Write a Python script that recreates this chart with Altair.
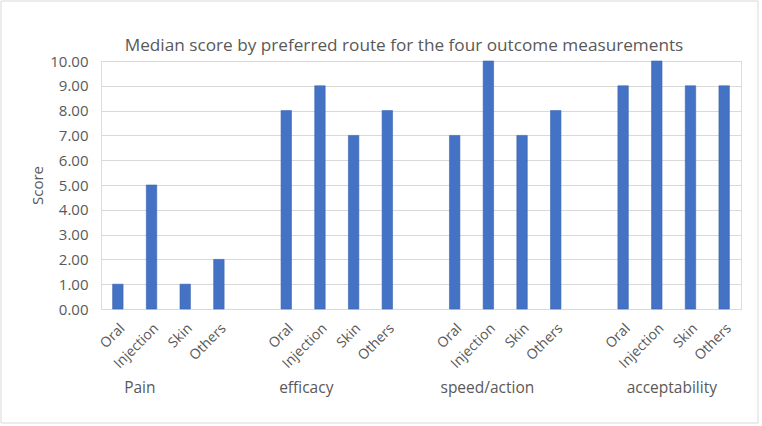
import altair as alt
import pandas as pd

groups = ["Pain", "efficacy", "speed/action", "acceptability"]
routes = ["Oral", "Injection", "Skin", "Others"]
scores = {
    "Pain": [1, 5, 1, 2],
    "efficacy": [8, 9, 7, 8],
    "speed/action": [7, 10, 7, 8],
    "acceptability": [9, 10, 9, 9],
}
y_ticks = [0, 1, 2, 3, 4, 5, 6, 7, 8, 9, 10]
title_text = "Median score by preferred route for the four outcome measurements"

# slot domain (blank slot between groups, as in the original)
domain = []
rows = []
for gi, g in enumerate(groups):
    if gi > 0:
        domain.append("gap%d" % gi)
    for r, v in zip(routes, scores[g]):
        key = g + "|" + r
        domain.append(key)
        rows.append({"key": key, "group": g, "route": r, "score": v})
df = pd.DataFrame(rows)

W, H = 640, 248
TXT = "#595959"
FONT = "Open Sans"

xscale = alt.Scale(domain=domain, paddingInner=0.69, paddingOuter=0.345)

bars = alt.Chart(df).mark_bar(color="#4472C4", stroke="#3A64B0", strokeWidth=0.6).encode(
    x=alt.X("key:N", scale=xscale, sort=domain,
            axis=alt.Axis(title=None, labelAngle=-45, ticks=False,
                          labelExpr="indexof(datum.value,'|')>=0 ? split(datum.value,'|')[1] : ''",
                          labelFont=FONT, labelFontSize=14, labelColor=TXT,
                          domainColor="#D9D9D9", labelPadding=12)),
    y=alt.Y("score:Q", scale=alt.Scale(domain=[0, 10]),
            axis=alt.Axis(title="Score", values=y_ticks, format=".2f", ticks=False, domain=False,
                          gridColor="#D9D9D9", labelFont=FONT, labelFontSize=15, labelColor=TXT,
                          labelPadding=13, titleFont=FONT, titleFontSize=15, titleColor=TXT,
                          titleFontWeight="normal", titleX=-64, titleY=H / 2,
                          titleAlign="center", titleBaseline="middle")),
)

# group labels (anchor category + horizontal nudge, matching the original placement)
anchors = ["Oral", "Oral", "Injection", "Injection"]
nudges = [22, 20, -1, 15]
layers = [bars]
for g, a, dx in zip(groups, anchors, nudges):
    gl = alt.Chart(pd.DataFrame([{"key": g + "|" + a, "label": g}])).mark_text(
        font=FONT, fontSize=15.5, color=TXT, dx=dx, baseline="middle", align="center"
    ).encode(x=alt.X("key:N", scale=xscale, sort=domain), y=alt.value(H + 79), text="label:N")
    layers.append(gl)

title = alt.Chart(pd.DataFrame([{"t": title_text}])).mark_text(
    font=FONT, fontSize=17.2, color=TXT, align="center", baseline="middle"
).encode(text="t:N", x=alt.value(W / 2 - 17), y=alt.value(-15))
layers.append(title)

frame = alt.Chart(alt.Data(values=[{"a": 1}])).mark_rect(
    fill=None, stroke="#D9D9D9", strokeWidth=1
).encode(x=alt.value(-100), x2=alt.value(657), y=alt.value(-60), y2=alt.value(362))
layers.append(frame)

chart = alt.layer(*layers).properties(
    width=W, height=H,
    autosize=alt.AutoSizeParams(type="none"),
    padding={"left": 101, "top": 61, "right": 21, "bottom": 117},
).configure_view(stroke=None).configure(background="white")

chart.save("out.html", embed_options={"renderer": "svg", "actions": False})
